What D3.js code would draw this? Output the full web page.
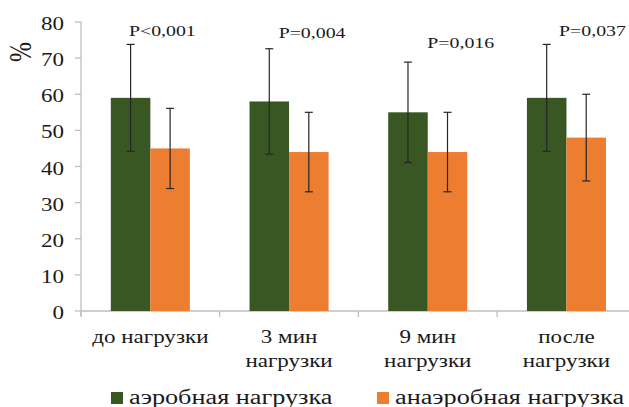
<!DOCTYPE html>
<html>
<head>
<meta charset="utf-8">
<script src="https://cdn.jsdelivr.net/npm/d3@7"></script>
<style>
  html, body { margin: 0; padding: 0; background: #fff; }
  svg { display: block; }
</style>
</head>
<body>
<svg id="chart" width="629" height="407"></svg>
<script>
// Measurement stages (two-line labels)
const categories = [
  ["до нагрузки"],
  ["3 мин", "нагрузки"],
  ["9 мин", "нагрузки"],
  ["после", "нагрузки"]
];
const seriesNames = ["аэробная нагрузка", "анаэробная нагрузка"];
const aerobicMean = [59, 58, 55, 59];
const aerobicErr = [14.8, 14.6, 13.9, 14.8];
const anaerobicMean = [45, 44, 44, 48];
const anaerobicErr = [11.1, 11.0, 11.0, 12.0];
const pLabels = ["P<0,001", "P=0,004", "P=0,016", "P=0,037"];
const yTicks = [0, 10, 20, 30, 40, 50, 60, 70, 80];

const colors = ["#385723", "#ED7D31"];
const fontFamily = "'Liberation Serif', 'DejaVu Serif', serif";
const stretch = 1.28; // horizontal stretch applied to all text

const svg = d3.select("#chart")
  .attr("font-family", fontFamily);
const left = 81, zeroY = 311, topY = 22;
const bandW = 138.7;

const x = d3.scaleBand()
  .domain(d3.range(categories.length))
  .range([left, left + bandW * categories.length])
  .paddingInner(0.43).paddingOuter(0.215);
const xs = d3.scaleBand().domain([0, 1]).range([0, x.bandwidth()]);
const y = d3.scaleLinear().domain([0, 80]).range([zeroY, topY]);

// stretched text helper
function sText(g, tx, ty, str, size, anchor) {
  return g.append("text")
    .attr("transform", `translate(${tx},${ty}) scale(${stretch},1)`)
    .attr("font-family", fontFamily)
    .attr("font-size", size)
    .attr("fill", "#1a1a1a")
    .attr("text-anchor", anchor || "middle")
    .text(str);
}

// Y axis
const axisColor = "#bfbfbf";
svg.append("line").attr("x1", left).attr("x2", left)
  .attr("y1", y(80)).attr("y2", zeroY + 5)
  .attr("stroke", axisColor).attr("stroke-width", 1.3);
const yg = svg.append("g");
yTicks.forEach(v => {
  yg.append("line").attr("x1", left - 6).attr("x2", left)
    .attr("y1", y(v)).attr("y2", y(v))
    .attr("stroke", axisColor).attr("stroke-width", 1.3);
  sText(yg, 64, y(v) + 8, String(v), 18, "end");
});

// Y title
svg.append("text")
  .attr("transform", `translate(31,52) rotate(-90) scale(1,${stretch})`)
  .attr("font-family", fontFamily)
  .attr("font-size", 24).attr("text-anchor", "middle")
  .attr("fill", "#1a1a1a")
  .text("%");

// X axis
const xEnd = left + bandW * categories.length;
svg.append("line").attr("x1", left).attr("x2", xEnd)
  .attr("y1", zeroY).attr("y2", zeroY)
  .attr("stroke", axisColor).attr("stroke-width", 1.3);
d3.range(categories.length + 1).forEach(i => {
  const tx = left + bandW * i;
  svg.append("line").attr("x1", tx).attr("x2", tx)
    .attr("y1", zeroY).attr("y2", zeroY + 6)
    .attr("stroke", axisColor).attr("stroke-width", 1.3);
});

// Category labels
categories.forEach((lines, i) => {
  const cx = left + bandW * i + bandW / 2;
  lines.forEach((ln, j) => {
    sText(svg, cx, 343 + j * 23.5, ln, 18, "middle");
  });
});

// Bars
const series = [
  { mean: aerobicMean, err: aerobicErr },
  { mean: anaerobicMean, err: anaerobicErr }
];
series.forEach((s, si) => {
  const g = svg.append("g");
  g.selectAll("rect").data(s.mean).join("rect")
    .attr("x", (d, i) => x(i) + xs(si))
    .attr("y", d => y(d))
    .attr("width", xs.bandwidth())
    .attr("height", d => zeroY - y(d))
    .attr("fill", colors[si]);
});

// Error bars
series.forEach((s, si) => {
  const g = svg.append("g").attr("stroke", "#262626").attr("stroke-width", 1.2);
  s.mean.forEach((m, i) => {
    const cx = x(i) + xs(si) + xs.bandwidth() / 2;
    const hi = y(m + s.err[i]), lo = y(m - s.err[i]);
    g.append("line").attr("x1", cx).attr("x2", cx).attr("y1", hi).attr("y2", lo);
    g.append("line").attr("x1", cx - 4).attr("x2", cx + 4).attr("y1", hi).attr("y2", hi);
    g.append("line").attr("x1", cx - 4).attr("x2", cx + 4).attr("y1", lo).attr("y2", lo);
  });
});

// Significance labels above each group
const pOffsetX = [12, 23, 33, 26];
const pLevel = [76.2, 75.6, 72.8, 76.2];
pLabels.forEach((p, i) => {
  const cx = x(i) + x.bandwidth() / 2 + pOffsetX[i];
  sText(svg, cx, y(pLevel[i]), p, 15.5, "middle");
});

// Legend
const legendX = [111, 377];
seriesNames.forEach((name, i) => {
  svg.append("rect").attr("x", legendX[i]).attr("y", 392)
    .attr("width", 12).attr("height", 12).attr("fill", colors[i]);
  sText(svg, legendX[i] + 18, 404, name, 20.5, "start");
});
</script>
</body>
</html>
